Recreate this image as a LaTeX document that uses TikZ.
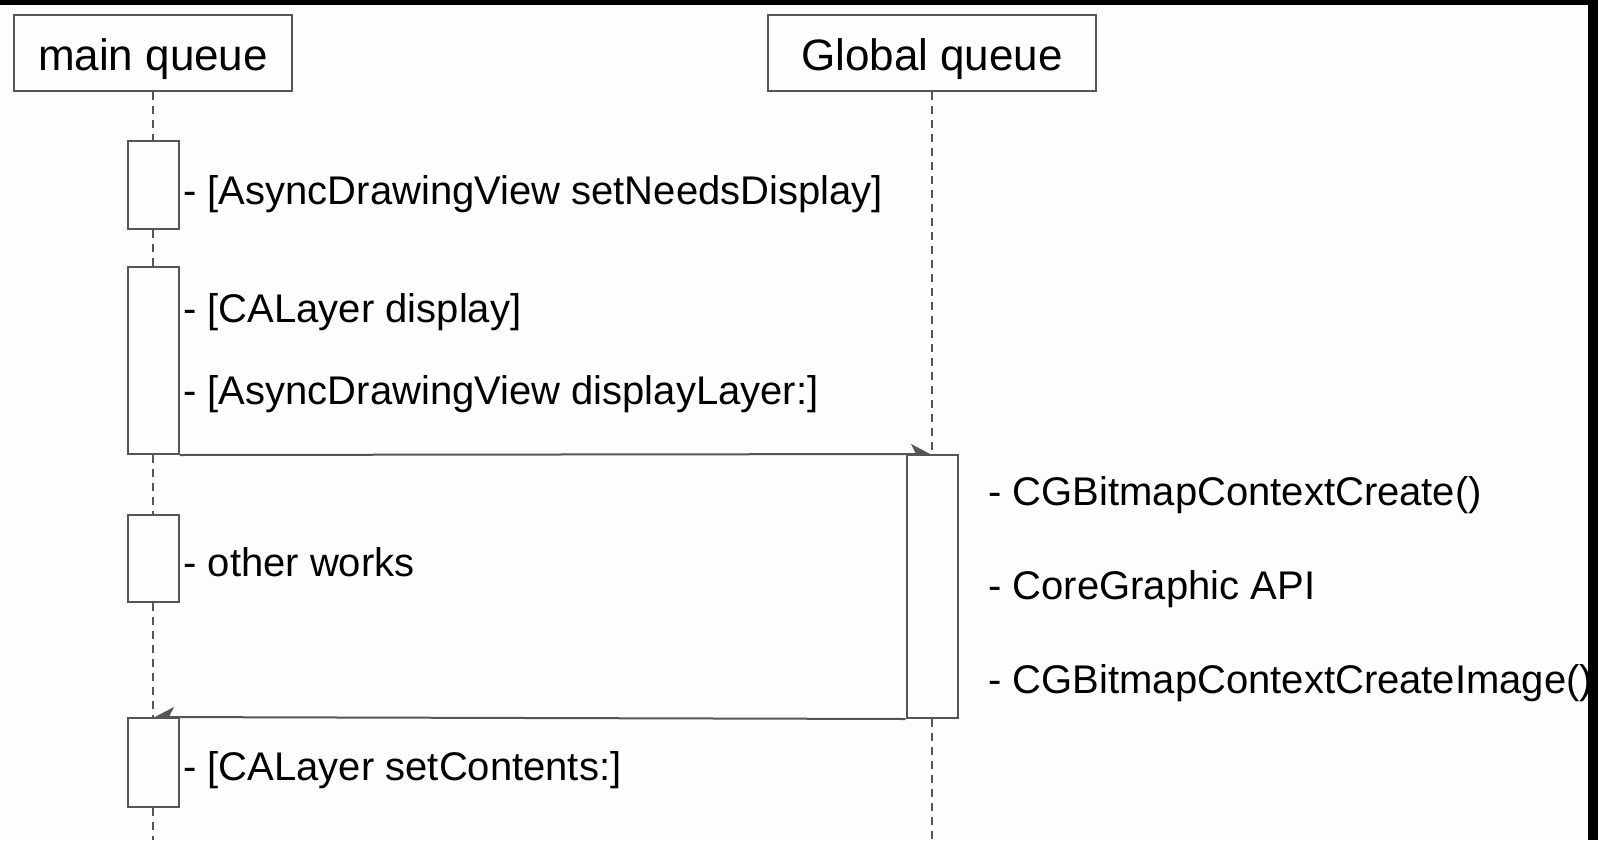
\documentclass[tikz,border=0pt]{standalone}
\usepackage{fontspec}
\setmainfont{Liberation Sans}
\usepackage{tikz}
\usetikzlibrary{arrows.meta,positioning}
\definecolor{linegray}{HTML}{555555}
\definecolor{paper}{HTML}{FDFDFD}

\begin{document}
\begin{tikzpicture}[x=0.5pt, y=-0.5pt,
  actor/.style={draw=linegray, line width=1pt, minimum height=38pt, inner sep=0pt, align=center, text height=18pt, text depth=0pt, font=\fontsize{22}{26}\selectfont},
  actbox/.style={draw=linegray, line width=1pt, fill=paper, minimum width=25.5pt, inner sep=0pt},
  lifeline/.style={draw=linegray, line width=1pt, dash pattern=on 4pt off 3pt},
  msg/.style={draw=linegray, line width=1pt, -{Stealth[harpoon, length=9.5pt, width=10pt, inset=2.5pt]}},
  msgback/.style={draw=linegray, line width=1pt, -{Stealth[harpoon, swap, length=9.5pt, width=10pt, inset=2.5pt]}},
  lbl/.style={anchor=base west, inner sep=0pt, font=\fontsize{20}{24}\selectfont}
]
  \useasboundingbox (0,0) rectangle (1598,840);
  \fill[black] (0,0) rectangle (1598,840);
  \fill[paper] (0,5) rectangle (1588,840);

  % queue headers
  \node[actor, minimum width=139pt] (mq) at (153,53) {main queue};
  \node[actor, minimum width=164pt] (gq) at (932,53) {Global queue};
  \coordinate (mqend) at (153,840);
  \coordinate (gqend) at (932,840);

  % activations on the main queue
  \node[actbox, minimum height=44pt] (m1) at (153,185) {};
  \node[actbox, minimum height=93.5pt] (m2) at (153,360.5) {};
  \node[actbox, minimum height=43.5pt] (m3) at (153,558.5) {};
  \node[actbox, minimum height=44.5pt] (m4) at (153,762.5) {};

  % activation on the global queue
  \node[actbox, minimum height=131.5pt] (g1) at (932,586.5) {};

  % lifelines
  \draw[lifeline] (mq.south) -- (m1.north);
  \draw[lifeline] (m1.south) -- (m2.north);
  \draw[lifeline] (m2.south) -- (m3.north);
  \draw[lifeline] (m3.south) -- (m4.north);
  \draw[lifeline] (m4.south) -- (mqend);
  \draw[lifeline] (gq.south) -- (g1.north);
  \draw[lifeline] (g1.south) -- (gqend);

  % messages
  \draw[msg] (m2.south east) -- (g1.north);
  \draw[msgback] (g1.south west) -- (m4.north);

  % labels
  \node[lbl] (t1) at (183,204) {- [AsyncDrawingView setNeedsDisplay]};
  \node[lbl] (t2) at (183,322) {- [CALayer display]};
  \node[lbl] (t3) at (183,404) {- [AsyncDrawingView displayLayer:]};
  \node[lbl] (t4) at (183,576) {- other works};
  \node[lbl] (t5) at (183,780) {- [CALayer setContents:]};
  \node[lbl] (t6) at (988,505) {- CGBitmapContextCreate()};
  \node[lbl] (t7) at (988,599) {- CoreGraphic API};
  \node[lbl] (t8) at (988,693) {- CGBitmapContextCreateImage()};

  % screen border on top
  \fill[black] (1588,0) rectangle (1598,840);
\end{tikzpicture}
\end{document}
